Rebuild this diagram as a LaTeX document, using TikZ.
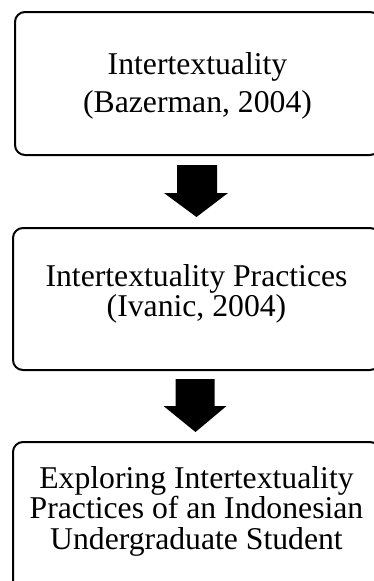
\documentclass[tikz,border=0pt]{standalone}
\usepackage{fontspec}
\setmainfont{Liberation Serif}
\usetikzlibrary{calc}
\tikzset{
  stagebox/.style={draw, line width=2pt, rounded corners=10pt, inner sep=0pt},
  stagetext/.style={align=center, inner sep=0pt, font=\fontsize{31.7}{30.5}\selectfont},
  blockarrow/.style={fill=black, draw=none}
}
\begin{document}
\begin{tikzpicture}[x=1pt,y=-1pt]
\useasboundingbox (0,0) rectangle (373,581);
\node[stagebox, minimum width=365pt, minimum height=143pt] (b1) at (197.5,83.5) {};
\node[stagetext, font=\fontsize{31.7}{38}\selectfont] (t1) at (197.5,85.5)
  {Intertextuality\\(Bazerman, 2004)};
\node[stagebox, minimum width=367pt, minimum height=142pt] (b2) at (196.5,299) {};
\node[stagetext, font=\fontsize{31.7}{29.5}\selectfont] (t2) at (196.5,294)
  {Intertextuality Practices\\(Ivanic, 2004)};
\node[stagebox, minimum width=367pt, minimum height=160pt] (b3) at (196.5,522) {};
\node[stagetext] (t3) at (196.5,511)
  {Exploring Intertextuality\\Practices of an Indonesian\\Undergraduate Student};
% arrow 1
\coordinate (a1s) at ($(b1.south)+(-0.5,9)$);
\coordinate (a1t) at ($(b2.north)+(0,-10)$);
\fill[blockarrow] ($(a1s)+(-20,0)$) -- ($(a1s)+(20,0)$) -- ($(a1s)+(20,28)$)
  -- ($(a1s)+(31,28)$) -- (a1t) -- ($(a1s)+(-33,28)$) -- ($(a1s)+(-20,28)$) -- cycle;
% arrow 2
\coordinate (a2s) at ($(b2.south)+(-1,8)$);
\coordinate (a2t) at ($(b3.north)+(-1,-9)$);
\fill[blockarrow] ($(a2s)+(-20,0)$) -- ($(a2s)+(19,0)$) -- ($(a2s)+(19,27)$)
  -- ($(a2s)+(31,27)$) -- (a2t) -- ($(a2s)+(-32,27)$) -- ($(a2s)+(-20,27)$) -- cycle;
\end{tikzpicture}
\end{document}
